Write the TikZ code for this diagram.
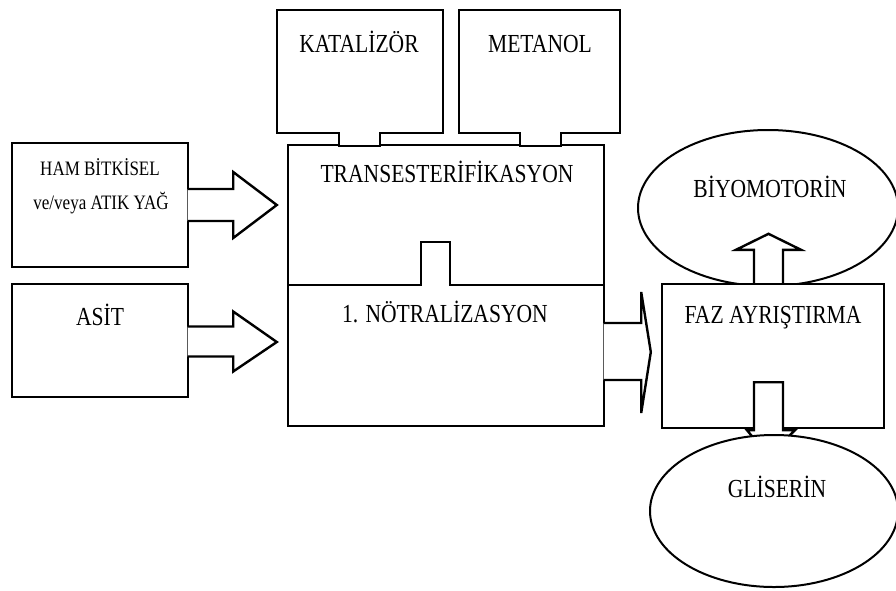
\documentclass[tikz,border=0pt]{standalone}
\usepackage{fontspec}
\setmainfont{Liberation Serif}[FakeStretch=0.83]
\usetikzlibrary{positioning,calc,shapes.geometric}
\newcommand\bigfont{\fontsize{26}{30}\selectfont}
\newcommand\smallfont{\fontsize{20.5}{24}\selectfont}

\begin{document}
\begin{tikzpicture}[x=1pt, y=-1pt,
  box/.style={draw, fill=white, line width=2.4pt, inner sep=0},
  ell/.style={draw, fill=white, ellipse, line width=2pt, inner sep=0},
  blk/.style={draw, fill=white, line width=2.4pt, line join=miter},
  lbl/.style={font=\bigfont, anchor=base, inner sep=0}]
\useasboundingbox (0,0) rectangle (896,590);
% top inputs
\node[box, minimum width=166, minimum height=123] (kat) at (360,71.5) {};
\node[box, minimum width=161, minimum height=123] (met) at (539.5,71.5) {};
\node[box, minimum width=316, minimum height=140] (trans) at (446,215) {};
\node[box, minimum width=316, minimum height=141] (notr) at (446,355.5) {};
\filldraw[blk] ($(kat.south)+(-21,-2)$) -- ++(0,14) -- ++(41,0) -- ++(0,-14);
\filldraw[blk] ($(met.south)+(-19.5,-2)$) -- ++(0,14) -- ++(41,0) -- ++(0,-14);
\draw[blk] ($(trans.south)+(-25,0)$) -- ++(0,-44) -- ++(29,0) -- ++(0,44);
% left inputs
\node[box, minimum width=176, minimum height=124] (ham) at (100,205) {};
\node[box, minimum width=176, minimum height=113] (asit) at (100,340.5) {};
\filldraw[blk] ($(ham.east)+(-1.5,-16)$) -- ++(45.5,0) -- ++(0,-17)
  -- ($(trans.west |- ham.east)+(-10,0)$) -- ($(ham.east)+(44,33)$) -- ++(0,-17) -- ++(-45.5,0);
\filldraw[blk] ($(asit.east)+(-1.5,-14)$) -- ++(45.5,0) -- ++(0,-15)
  -- ($(notr.west |- asit.east)+(-10,1.5)$) -- ($(asit.east)+(44,31)$) -- ++(0,-15) -- ++(-45.5,0);
% separation
\node[ell, minimum width=260, minimum height=156] (biyo) at (768,208) {};
\node[box, minimum width=220, minimum height=142] (faz) at (773,356) {};
\filldraw[blk] ($(notr.east)+(-1.5,-32.5)$) -- ++(37.5,0) -- ++(0,-31)
  -- ($(faz.west)+(-11,-4)$) -- ($(notr.east)+(36,57.5)$) -- ++(0,-33) -- ++(-37.5,0);
\filldraw[blk] ($(faz.north)+(-19,0)$) -- ++(0,-34) -- ++(-18,0) -- ($(faz.north)+(-4.5,-50)$)
  -- ($(faz.north)+(28,-34)$) -- ++(-18,0) -- ++(0,34);
\draw[box] (faz.north west) rectangle (faz.south east);
\filldraw[blk] ($(faz.south)+(-19,2)$) -- ++(0,-48) -- ++(29,0) -- ++(0,48) -- ++(12,0)
  -- ($(faz.south)+(-4.5,28)$) -- ($(faz.south)+(-26,2)$) -- cycle;
\node[ell, minimum width=248, minimum height=152] (gli) at (774,511) {};
% texts
\node[lbl] at (359,52) {KATALİZÖR};
\node[lbl] at (540,52) {METANOL};
\node[lbl] at (447,182) {TRANSESTERİFİKASYON};
\node[lbl] at (445,322) {1. NÖTRALİZASYON};
\node[lbl, font=\smallfont] at (100,175) {HAM BİTKİSEL};
\node[lbl, font=\smallfont] at (101,209) {ve/veya ATIK YAĞ};
\node[lbl] at (100,325) {ASİT};
\node[lbl] at (773,323) {FAZ AYRIŞTIRMA};
\node[lbl] at (770,197) {BİYOMOTORİN};
\node[lbl] at (777,497) {GLİSERİN};
\end{tikzpicture}
\end{document}
